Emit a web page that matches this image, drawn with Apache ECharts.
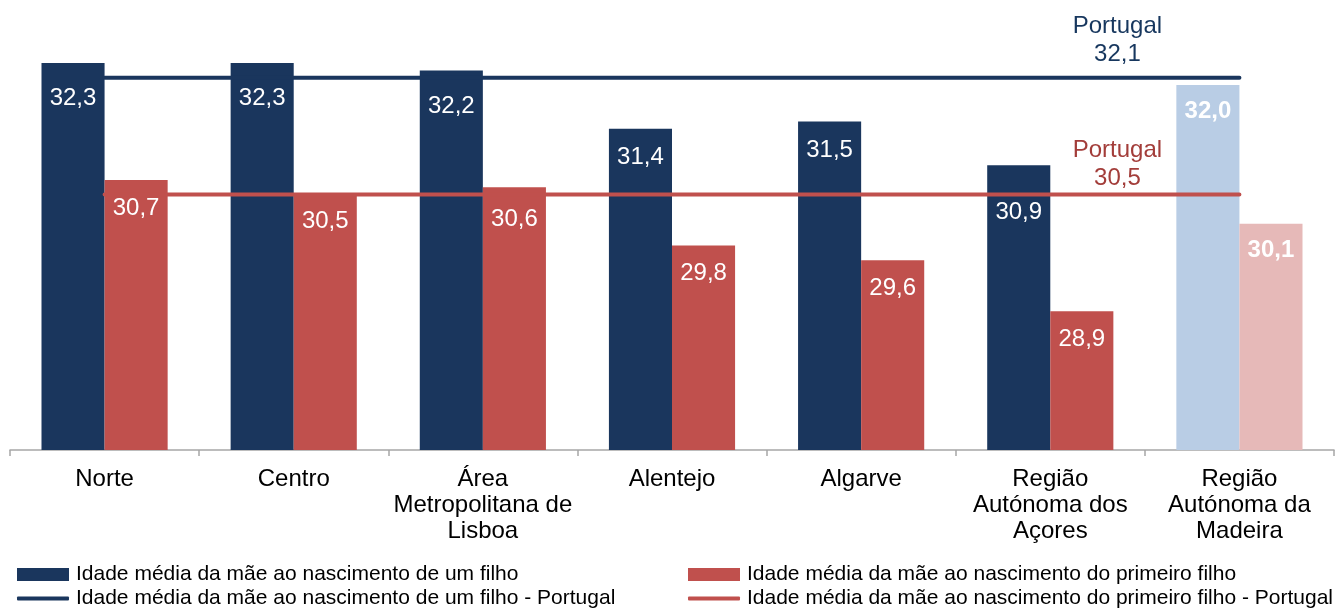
<!DOCTYPE html>
<html>
<head>
<meta charset="utf-8">
<script src="https://cdn.jsdelivr.net/npm/echarts@6/dist/echarts.min.js"></script>
<style>
  html, body { margin: 0; padding: 0; background: #fff; }
  #chart { width: 1342px; height: 610px; }
</style>
</head>
<body>
<div id="chart"></div>
<script>
// regiões (NUTS II)
const regioes = [
    'Norte',
    'Centro',
    'Área\nMetropolitana de\nLisboa',
    'Alentejo',
    'Algarve',
    'Região\nAutónoma dos\nAçores',
    'Região\nAutónoma da\nMadeira'
];
const idadeUmFilho = [32.3, 32.3, 32.2, 31.4, 31.5, 30.9, 32.0];
const idadePrimeiroFilho = [30.7, 30.5, 30.6, 29.8, 29.6, 28.9, 30.1];
const portugalUmFilho = 32.1;
const portugalPrimeiroFilho = 30.5;

const nomes = [
    'Idade média da mãe ao nascimento de um filho',
    'Idade média da mãe ao nascimento do primeiro filho',
    'Idade média da mãe ao nascimento de um filho - Portugal',
    'Idade média da mãe ao nascimento do primeiro filho - Portugal'
];

// distância do rótulo ao topo da barra (afasta das linhas de referência)
const distUmFilho = [23, 23, 24, 17, 17, 35, 14];
const distPrimeiro = [16, 15, 20, 16, 16, 16, 15];

const AZUL = '#1a365d', VERMELHO = '#c0504d';
const AZUL_CLARO = '#b9cde5', VERMELHO_CLARO = '#e6b9b8';
const FONTE = "'Liberation Sans', Arial, sans-serif";

const fmt = (v) => v.toFixed(1).replace('.', ',');

const barData = (vals, dists, claro) => vals.map((v, i) => {
    const item = { value: v, label: { distance: dists[i] } };
    if (i === vals.length - 1) {
        item.itemStyle = { color: claro };
        item.label.fontWeight = 'bold';
    }
    return item;
});

const lineData = (ref, cor, offsetY) => regioes.map((r, i) => {
    if (i < regioes.length - 1) return ref;
    return {
        value: ref,
        label: {
            show: true,
            position: 'top',
            distance: 5,
            offset: [-122, offsetY],
            formatter: 'Portugal\n' + fmt(ref),
            color: cor,
            fontSize: 24,
            lineHeight: 28,
            fontFamily: FONTE,
            align: 'center'
        }
    };
});

const barLabel = {
    show: true,
    position: 'insideTop',
    color: '#fff',
    fontSize: 24,
    lineHeight: 24,
    fontFamily: FONTE,
    formatter: (p) => fmt(p.value)
};

// uma legenda por item, em duas linhas e duas colunas
const legenda = (nome, left, top, ehLinha) => ({
    orient: 'horizontal',
    left: left, top: top,
    padding: 0,
    itemWidth: 52,
    itemHeight: ehLinha ? 4 : 13,
    icon: ehLinha ? 'roundRect' : 'rect',
    textStyle: { fontSize: 21, lineHeight: 21, fontFamily: FONTE, color: '#000', padding: [0, 0, 0, 2] },
    data: [nome]
});

const chart = echarts.init(document.getElementById('chart'));

chart.setOption({
    animation: false,
    grid: { left: 10, right: 8, top: 12, bottom: 160, containLabel: false },
    legend: [
        legenda(nomes[0], 17, 564, false),
        legenda(nomes[2], 17, 588, true),
        legenda(nomes[1], 688, 564, false),
        legenda(nomes[3], 688, 588, true)
    ],
    xAxis: {
        type: 'category',
        data: regioes,
        axisLine: { lineStyle: { color: '#a6a6a6', width: 1.5 } },
        axisTick: { show: true, length: 6, lineStyle: { color: '#a6a6a6', width: 1.5 } },
        axisLabel: {
            color: '#000', fontSize: 24, lineHeight: 26, fontFamily: FONTE,
            margin: 16, interval: 0
        }
    },
    yAxis: { type: 'value', min: 27, max: 33, show: false, splitLine: { show: false } },
    series: [
        {
            name: nomes[0], type: 'bar', z: 2,
            barGap: 0, barCategoryGap: '33.3%',
            itemStyle: { color: AZUL },
            label: barLabel,
            data: barData(idadeUmFilho, distUmFilho, AZUL_CLARO)
        },
        {
            name: nomes[1], type: 'bar', z: 2,
            itemStyle: { color: VERMELHO },
            label: barLabel,
            data: barData(idadePrimeiroFilho, distPrimeiro, VERMELHO_CLARO)
        },
        {
            name: nomes[2], type: 'line', z: 5,
            symbol: 'circle', symbolSize: 0, showSymbol: true,
            itemStyle: { color: AZUL },
            lineStyle: { color: AZUL, width: 4, cap: 'round' },
            data: lineData(portugalUmFilho, '#17375e', -4)
        },
        {
            name: nomes[3], type: 'line', z: 5,
            symbol: 'circle', symbolSize: 0, showSymbol: true,
            itemStyle: { color: VERMELHO },
            lineStyle: { color: VERMELHO, width: 4, cap: 'round' },
            data: lineData(portugalPrimeiroFilho, '#a33d3a', 3)
        }
    ]
});
</script>
</body>
</html>
